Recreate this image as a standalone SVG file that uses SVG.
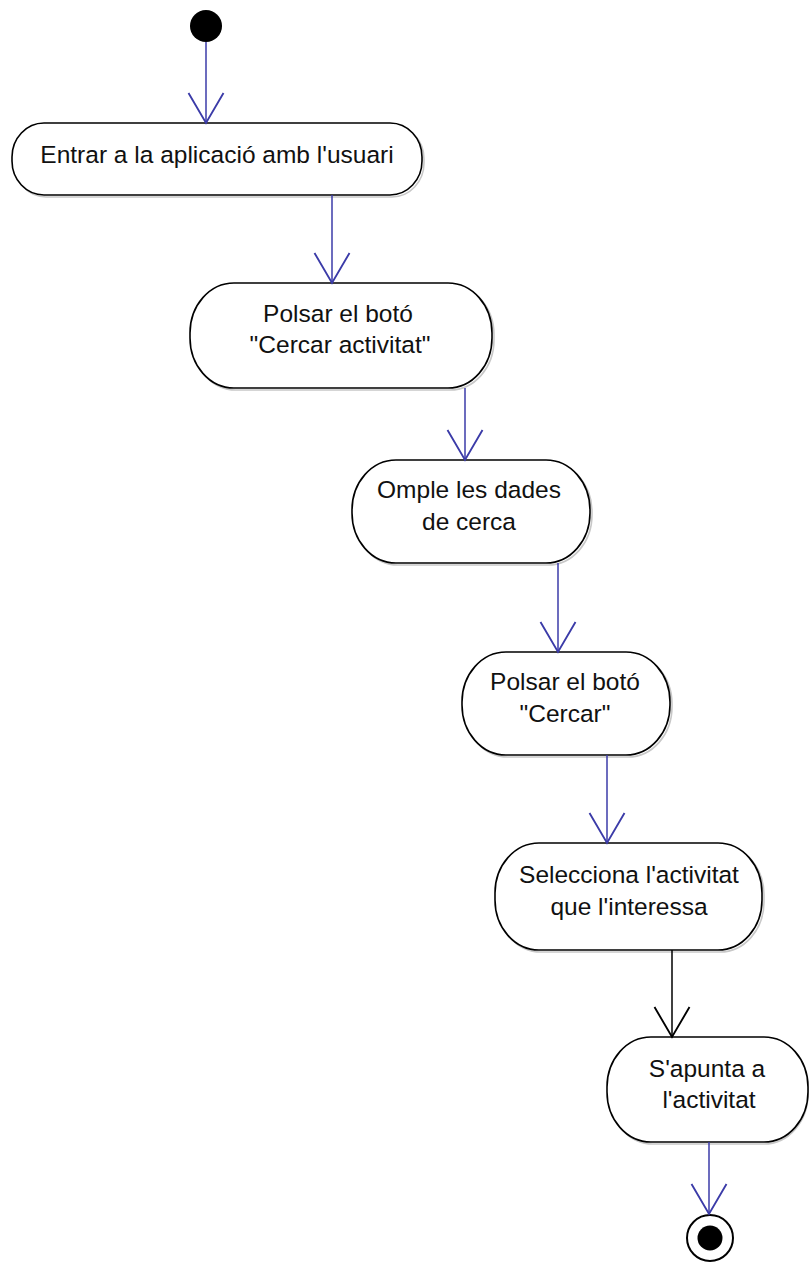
<svg xmlns="http://www.w3.org/2000/svg" width="810" height="1264" viewBox="0 0 810 1264">
  <style>
    .act { fill: #ffffff; stroke: #000000; stroke-width: 1.6; }
    .shadow { fill: none; stroke: #c8c8c8; stroke-width: 1.6; }
    .lbl { font-family: "Liberation Sans", Arial, sans-serif; font-size: 24.5px; fill: #111111; text-anchor: middle; }
    .flow { fill: none; stroke: #3b3ba8; stroke-width: 1.5; }
    .flow-dark { fill: none; stroke: #000000; stroke-width: 1.5; }
  </style>
  <defs>
    <marker id="open-blue" markerUnits="userSpaceOnUse" markerWidth="40" markerHeight="40" viewBox="-26 -16 28 32" refX="0" refY="0" orient="auto" overflow="visible">
      <path d="M-24,-14 L0,0 L-24,14" fill="none" stroke="#3b3ba8" stroke-width="1.5"/>
    </marker>
    <marker id="open-black" markerUnits="userSpaceOnUse" markerWidth="40" markerHeight="40" viewBox="-26 -16 28 32" refX="0" refY="0" orient="auto" overflow="visible">
      <path d="M-24,-14 L0,0 L-24,14" fill="none" stroke="#000000" stroke-width="1.5"/>
    </marker>
  </defs>

  <rect width="810" height="1264" fill="#ffffff"/>

  <!-- start / end states -->
  <g id="start">
    <circle cx="206" cy="26" r="16" fill="#000000"/>
  </g>
  <g id="end">
    <circle cx="710" cy="1238" r="23" fill="#ffffff" stroke="#000000" stroke-width="2"/>
    <circle cx="710" cy="1238" r="12.5" fill="#000000"/>
  </g>

  <!-- activities -->
  <g id="entrar">
    <rect class="shadow" x="14" y="125" width="410" height="72" rx="32" ry="34"/>
    <rect class="act" x="12" y="123" width="410" height="72" rx="32" ry="34"/>
    <text class="lbl" x="217" y="163">Entrar a la aplicació amb l'usuari</text>
  </g>
  <g id="polsar-cercar-activitat">
    <rect class="shadow" x="192" y="285" width="302" height="105" rx="44" ry="50"/>
    <rect class="act" x="190" y="283" width="302" height="105" rx="44" ry="50"/>
    <text class="lbl" x="338" y="322">Polsar el botó</text>
    <text class="lbl" x="340" y="353">"Cercar activitat"</text>
  </g>
  <g id="omple-dades">
    <rect class="shadow" x="354" y="462" width="238" height="103" rx="44" ry="50"/>
    <rect class="act" x="352" y="460" width="238" height="103" rx="44" ry="50"/>
    <text class="lbl" x="469" y="498">Omple les dades</text>
    <text class="lbl" x="469" y="530">de cerca</text>
  </g>
  <g id="polsar-cercar">
    <rect class="shadow" x="464" y="654" width="208" height="103" rx="44" ry="50"/>
    <rect class="act" x="462" y="652" width="208" height="103" rx="44" ry="50"/>
    <text class="lbl" x="565" y="690">Polsar el botó</text>
    <text class="lbl" x="565" y="722">"Cercar"</text>
  </g>
  <g id="selecciona">
    <rect class="shadow" x="497" y="845" width="267" height="107" rx="44" ry="50"/>
    <rect class="act" x="495" y="843" width="267" height="107" rx="44" ry="50"/>
    <text class="lbl" x="629" y="883">Selecciona l'activitat</text>
    <text class="lbl" x="629" y="915">que l'interessa</text>
  </g>
  <g id="apunta">
    <rect class="shadow" x="609" y="1039" width="199" height="105" rx="44" ry="50"/>
    <rect class="act" x="607" y="1037" width="201" height="105" rx="44" ry="50"/>
    <text class="lbl" x="707" y="1077">S'apunta a</text>
    <text class="lbl" x="709" y="1108">l'activitat</text>
  </g>

  <!-- control flows -->
  <g id="flows">
    <line class="flow" x1="206" y1="42" x2="206" y2="123" marker-end="url(#open-blue)"/>
    <line class="flow" x1="332" y1="195" x2="332" y2="283" marker-end="url(#open-blue)"/>
    <line class="flow" x1="465" y1="388" x2="465" y2="460" marker-end="url(#open-blue)"/>
    <line class="flow" x1="558" y1="563" x2="558" y2="652" marker-end="url(#open-blue)"/>
    <line class="flow" x1="607" y1="755" x2="607" y2="843" marker-end="url(#open-blue)"/>
    <line class="flow-dark" x1="672" y1="950" x2="672" y2="1037" marker-end="url(#open-black)"/>
    <line class="flow" x1="709" y1="1142" x2="709" y2="1214" marker-end="url(#open-blue)"/>
  </g>
</svg>
